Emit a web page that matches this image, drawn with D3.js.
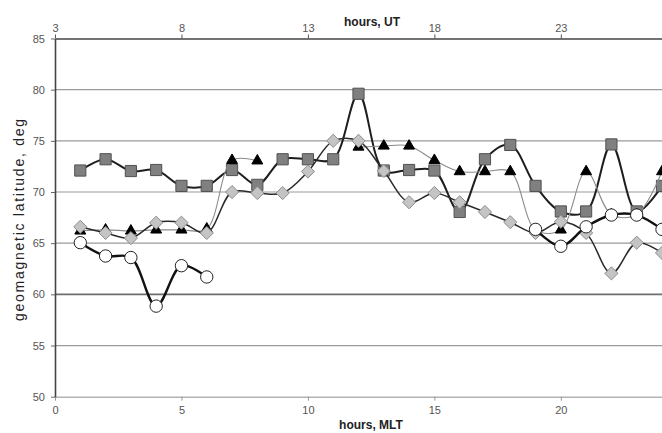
<!DOCTYPE html>
<html>
<head>
<meta charset="utf-8">
<script src="https://cdn.jsdelivr.net/npm/d3@7"></script>
<style>
  html, body { margin: 0; padding: 0; background: #fff; }
  svg { display: block; font-family: 'Liberation Sans', Arial, sans-serif; }
</style>
</head>
<body>
<svg id="chart" width="662" height="433"></svg>
<script>
// hours MLT, 1..24
const hoursMLT = d3.range(1, 25);
// series (null = no point)
const squares = [72.1, 73.2, 72.05, 72.15, 70.6, 70.6, 72.15, 70.7, 73.2, 73.2, 73.2, 79.6,
                 72.1, 72.15, 72.1, 68.05, 73.2, 74.6, 70.6, 68.1, 68.1, 74.65, 68.1, 70.6];
const triangles = [66.2, 66.3, 66.2, 66.3, 66.3, 66.4, 73.1, 73.05, null, null, null, 74.4,
                   74.5, 74.5, 73.1, 72.0, 72.0, 72.0, 66.3, 66.3, 72.0, 67.8, 67.8, 72.0];
const diamonds = [66.6, 66.0, 65.5, 67.0, 67.0, 66.0, 70.0, 69.9, 69.9, 72.0, 75.0, 75.0,
                  72.05, 69.0, 69.9, 69.0, 68.05, 67.05, 66.0, 67.1, 66.0, 62.05, 65.05, 64.05];
const circles = [65.05, 63.75, 63.6, 58.85, 62.8, 61.7, null, null, null, null, null, null,
                 null, null, null, null, null, null, 66.35, 64.7, 66.6, 67.75, 67.75, 66.35];

const yTicks = [50, 55, 60, 65, 70, 75, 80, 85];
const mltTicks = [0, 5, 10, 15, 20];
const utTicks = [3, 8, 13, 18, 23];

const svg = d3.select('#chart');
const mLeft = 55, mRight = 662, mTop = 38.5, mBottom = 396.7;

const x = d3.scaleLinear().domain([0, 24]).range([mLeft, mRight]);
const xUT = d3.scaleLinear().domain([3, 27]).range([mLeft, mRight]);
const y = d3.scaleLinear().domain([50, 85]).range([mBottom, mTop]);

// horizontal grid lines
svg.append('g')
  .selectAll('line')
  .data(yTicks.filter(v => v > 50 && v < 85))
  .join('line')
  .attr('x1', mLeft).attr('x2', mRight)
  .attr('y1', d => y(d)).attr('y2', d => y(d))
  .attr('stroke', d => d === 60 ? '#6e6e6e' : '#9a9a9a')
  .attr('stroke-width', d => d === 60 ? 1.6 : 1.2);

function styleText(sel) {
  sel.selectAll('text').attr('fill', '#555').attr('font-size', 11)
    .attr('font-family', "'Liberation Sans', Arial, sans-serif");
}

// bottom axis (MLT)
const xAxis = svg.append('g')
  .attr('transform', `translate(0,${mBottom})`)
  .call(d3.axisBottom(x).tickValues(mltTicks).tickSize(4).tickPadding(6).tickSizeOuter(0));
xAxis.select('.domain').attr('stroke', '#b4b4b4').attr('stroke-width', 1.5);
xAxis.selectAll('.tick line').attr('stroke', '#999');
styleText(xAxis);

// top axis (UT)
const topAxis = svg.append('g')
  .attr('transform', `translate(0,${mTop})`)
  .call(d3.axisTop(xUT).tickValues(utTicks).tickSize(4).tickPadding(3).tickSizeOuter(0));
topAxis.select('.domain').attr('stroke', '#444').attr('stroke-width', 1.4);
topAxis.selectAll('.tick line').attr('stroke', '#555');
styleText(topAxis);

// left axis
const yAxis = svg.append('g')
  .attr('transform', `translate(${mLeft},0)`)
  .call(d3.axisLeft(y).tickValues(yTicks).tickSize(4).tickPadding(6).tickSizeOuter(0));
yAxis.select('.domain').attr('stroke', '#444').attr('stroke-width', 1.6);
yAxis.selectAll('.tick line').attr('stroke', '#666');
styleText(yAxis);

// titles
svg.append('text')
  .attr('x', 372).attr('y', 26)
  .attr('text-anchor', 'middle')
  .attr('font-size', 12).attr('font-weight', 700).attr('fill', '#222')
  .text('hours, UT');
svg.append('text')
  .attr('x', 371).attr('y', 429)
  .attr('text-anchor', 'middle')
  .attr('font-size', 12).attr('font-weight', 700).attr('fill', '#222')
  .text('hours, MLT');
svg.append('text')
  .attr('transform', `translate(24,220) rotate(-90)`)
  .attr('text-anchor', 'middle')
  .attr('font-size', 14).attr('fill', '#222')
  .attr('textLength', 202).attr('lengthAdjust', 'spacing')
  .text('geomagnetic latitude, deg');

const plot = svg.append('g');

// Excel-style smoothed lines
const line = d3.line()
  .defined(d => d.v != null)
  .x(d => x(d.t))
  .y(d => y(d.v))
  .curve(d3.curveCatmullRom.alpha(0.5));

const series = [
  { name: 'squares', values: squares, stroke: '#1e1e1e', width: 2, shape: d3.symbolSquare, size: 125, fill: '#808080', outline: '#505050' },
  { name: 'triangles', values: triangles, stroke: '#8a8a8a', width: 1.1, shape: d3.symbolTriangle, size: 52, fill: '#000', outline: '#000' },
  { name: 'diamonds', values: diamonds, stroke: '#2a2a2a', width: 1.5, shape: d3.symbolDiamond2, size: 110, fill: '#c4c4c4', outline: '#8c8c8c' },
  { name: 'circles', values: circles, stroke: '#111', width: 2.4, shape: d3.symbolCircle, size: 120, fill: '#fff', outline: '#222' },
];

series.forEach(s => {
  const pts = hoursMLT.map((t, i) => ({ t, v: s.values[i] }));
  const g = plot.append('g').attr('class', s.name);
  g.append('path')
    .datum(pts)
    .attr('d', line)
    .attr('fill', 'none')
    .attr('stroke', s.stroke)
    .attr('stroke-width', s.width);
  g.selectAll('path.mark')
    .data(pts.filter(d => d.v != null))
    .join('path')
    .attr('class', 'mark')
    .attr('transform', d => `translate(${x(d.t)},${y(d.v)})`)
    .attr('d', d3.symbol().type(s.shape).size(s.size))
    .attr('fill', s.fill)
    .attr('stroke', s.outline)
    .attr('stroke-width', 1);
});
</script>
</body>
</html>
